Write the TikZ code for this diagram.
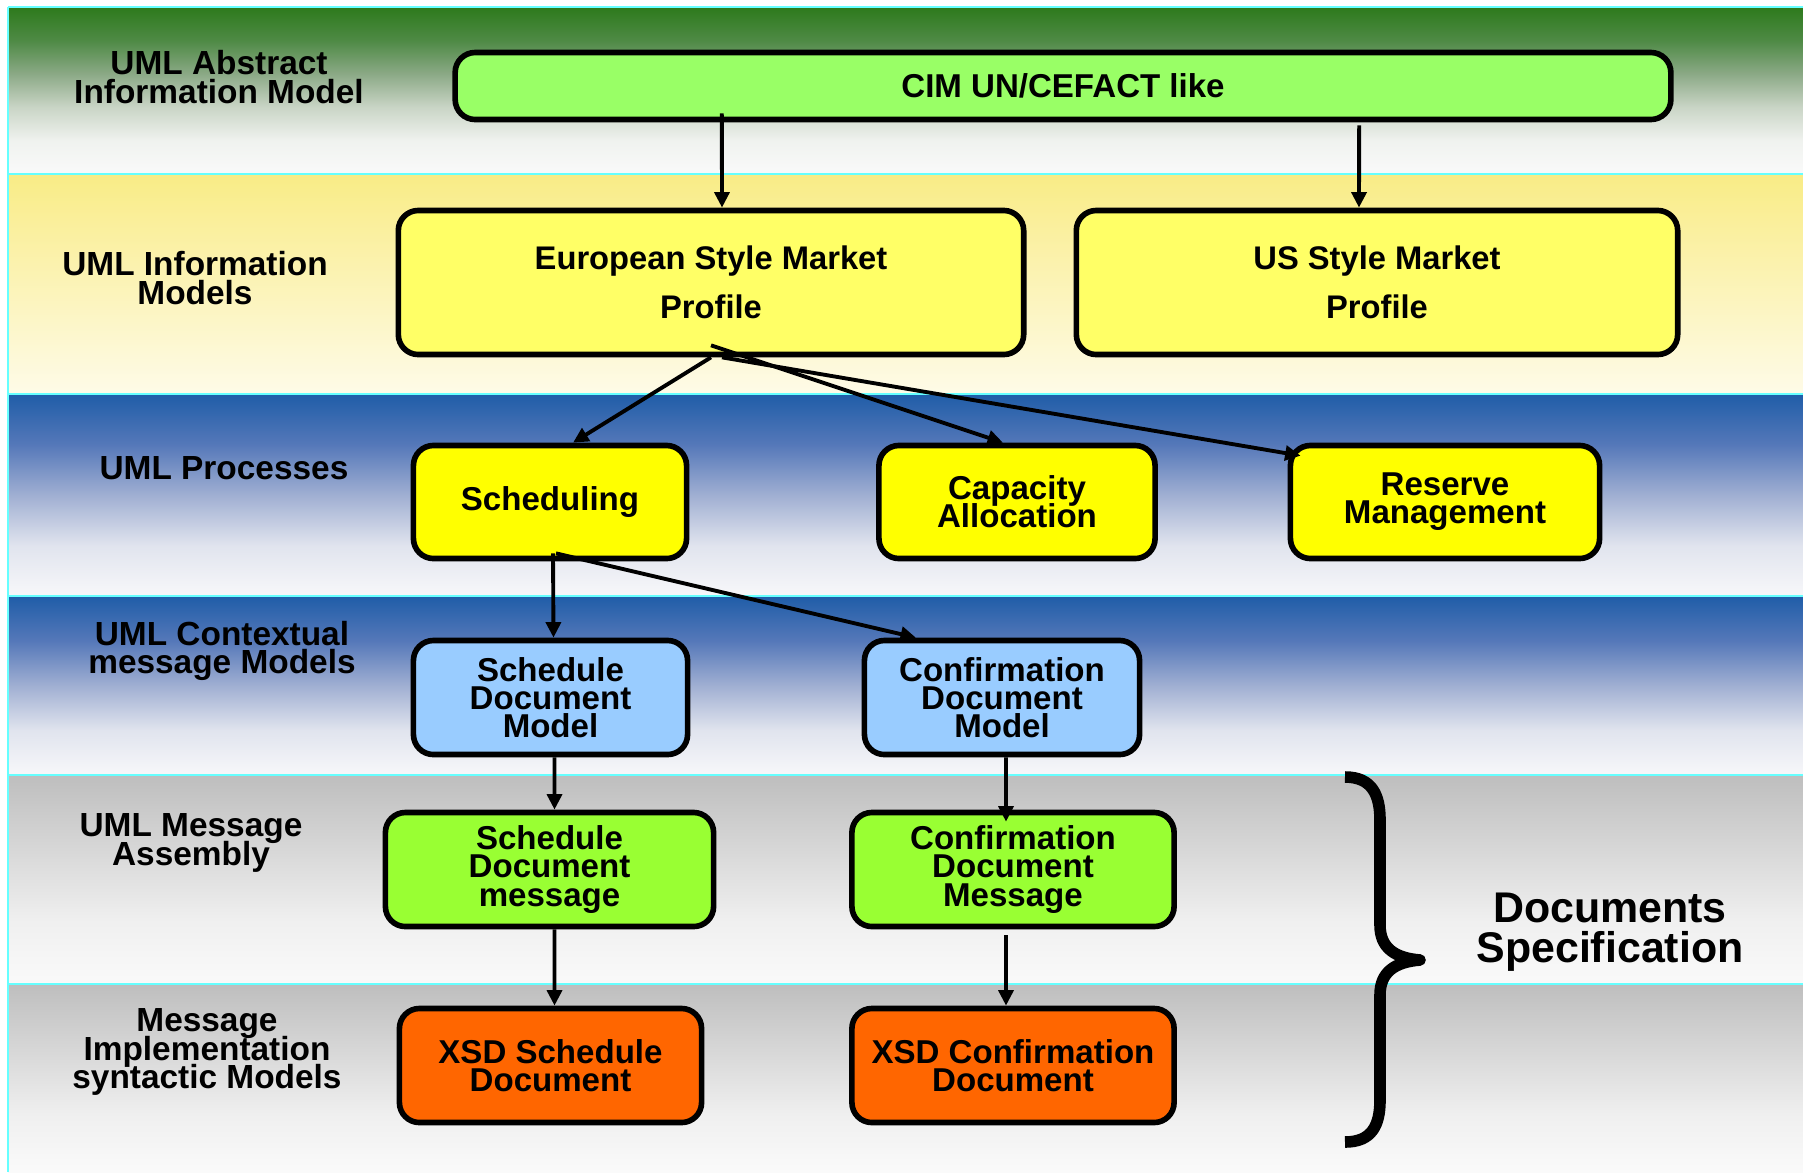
\documentclass[tikz,border=0pt]{standalone}
\usepackage{fontspec}
\setmainfont{Liberation Sans}
\usetikzlibrary{arrows.meta}
\definecolor{cimgreen}{RGB}{153,255,102}
\definecolor{profyellow}{RGB}{255,255,102}
\definecolor{procyellow}{RGB}{255,255,0}
\definecolor{modelblue}{RGB}{153,204,255}
\definecolor{msggreen}{RGB}{153,255,51}
\definecolor{xsdorange}{RGB}{255,102,0}
\definecolor{bandcyan}{RGB}{102,255,255}
\pgfdeclareverticalshading{bandgreen}{100bp}{rgb(0bp)=(0.98,0.98,0.98); rgb(25bp)=(0.98,0.98,0.98); rgb(35bp)=(0.94,0.95,0.937); rgb(45bp)=(0.79,0.835,0.776); rgb(55bp)=(0.545,0.663,0.525); rgb(65bp)=(0.306,0.541,0.27); rgb(75bp)=(0.176,0.478,0.11); rgb(100bp)=(0.176,0.478,0.11)}
\pgfdeclareverticalshading{bandyellow}{100bp}{rgb(0bp)=(0.996,0.984,0.91); rgb(25bp)=(0.996,0.984,0.91); rgb(75bp)=(0.976,0.925,0.525); rgb(100bp)=(0.976,0.925,0.525)}
\pgfdeclareverticalshading{bandblue}{100bp}{rgb(0bp)=(0.97,0.97,0.98); rgb(25bp)=(0.97,0.97,0.98); rgb(37.5bp)=(0.88,0.894,0.933); rgb(50bp)=(0.627,0.686,0.824); rgb(62.5bp)=(0.333,0.47,0.725); rgb(75bp)=(0.122,0.365,0.659); rgb(100bp)=(0.122,0.365,0.659)}
\pgfdeclareverticalshading{bandgrey}{100bp}{rgb(0bp)=(0.98,0.98,0.98); rgb(25bp)=(0.98,0.98,0.98); rgb(40bp)=(0.94,0.94,0.94); rgb(75bp)=(0.745,0.745,0.745); rgb(100bp)=(0.745,0.745,0.745)}
\tikzset{
    every node/.style={font=\fontsize{9.4}{8}\selectfont\bfseries, align=center,
        execute at begin node={\lineskiplimit=-20pt}},
    umlbox/.style={draw=black, line width=1.6pt, rounded corners=0.2cm, inner sep=0pt},
    layer/.style={font=\fontsize{9.5}{8}\selectfont\bfseries},
    profile/.style={font=\fontsize{9.3}{14}\selectfont\bfseries},
    flow/.style={-{Triangle[length=4.4pt,width=4.2pt]}, line width=1.1pt},
    bandline/.style={draw=bandcyan, line width=0.8pt}
}
\begin{document}
\begin{tikzpicture}[x=0.01cm, y=-0.01cm]
        \useasboundingbox (0,0) rectangle (1803,1172);
        \fill[white] (0,0) rectangle (1803,1172);
        \shade[shading=bandgreen] (8,7) rectangle (1803,174);
        \shade[shading=bandyellow] (8,174) rectangle (1803,394);
        \shade[shading=bandblue] (8,394) rectangle (1803,596);
        \shade[shading=bandblue] (8,596) rectangle (1803,775);
        \shade[shading=bandgrey] (8,775) rectangle (1803,984);
        \shade[shading=bandgrey] (8,984) rectangle (1803,1172);
        \foreach \y in {7,174,394,596,775,984}
            \draw[bandline] (8,\y) -- (1803,\y);
        \draw[bandline] (8,7) -- (8,1172);

        \node[layer] (labAbstract) at (219,77) {UML Abstract\\Information Model};
        \node[layer] (labInfo) at (195,278) {UML Information\\Models};
        \node[layer] (labProc) at (224,468) {UML Processes};
        \node[layer] (labContext) at (222,651) {UML Contextual\\message Models};
        \node[layer] (labAssembly) at (191,843) {UML Message\\Assembly};
        \node[layer] (labSyntax) at (207,1052) {Message\\Implementation\\syntactic Models};

        \node[umlbox, fill=cimgreen, minimum width=12.15cm, minimum height=0.67cm] (cim) at (1063,86) {CIM UN/CEFACT like};
        \node[umlbox, profile, fill=profyellow, minimum width=6.25cm, minimum height=1.44cm] (euro) at (711,282.5) {European Style Market\\Profile};
        \node[umlbox, profile, fill=profyellow, minimum width=6.01cm, minimum height=1.44cm] (us) at (1377,282.5) {US Style Market\\Profile};
        \node[umlbox, fill=procyellow, minimum width=2.73cm, minimum height=1.13cm] (sched) at (550,502) {Scheduling};
        \node[umlbox, fill=procyellow, minimum width=2.76cm, minimum height=1.13cm] (capa) at (1017,502) {Capacity\\Allocation};
        \node[umlbox, fill=procyellow, minimum width=3.09cm, minimum height=1.13cm] (reserve) at (1445,502) {Reserve\\Management};
        \node[umlbox, fill=modelblue, minimum width=2.74cm, minimum height=1.14cm] (sdm) at (550.5,697.5) {Schedule\\Document\\Model};
        \node[umlbox, fill=modelblue, minimum width=2.75cm, minimum height=1.14cm] (cdm) at (1002,697.5) {Confirmation\\Document\\Model};
        \node[umlbox, fill=msggreen, minimum width=3.28cm, minimum height=1.14cm] (sdmsg) at (549.5,869.5) {Schedule\\Document\\message};
        \node[umlbox, fill=msggreen, minimum width=3.22cm, minimum height=1.14cm] (cdmsg) at (1013,869.5) {Confirmation\\Document\\Message};
        \node[umlbox, fill=xsdorange, minimum width=3.02cm, minimum height=1.14cm] (xsds) at (550.5,1065.5) {XSD Schedule\\Document};
        \node[umlbox, fill=xsdorange, minimum width=3.22cm, minimum height=1.14cm] (xsdc) at (1013,1065.5) {XSD Confirmation\\Document};

        \node[font=\fontsize{12.2}{11.2}\selectfont\bfseries] (docspec) at (1610,932) {Documents\\Specification};
        \draw[line width=3.3pt, line join=round] (1345,777) .. controls (1372,777) and (1380,795) .. (1380,820) -- (1380,925) .. controls (1380,948) and (1395,958) .. (1420,960) .. controls (1395,962) and (1380,972) .. (1380,995) -- (1380,1100) .. controls (1380,1125) and (1372,1142) .. (1345,1142);

        \draw[flow] ([xshift=-3.41cm,yshift=0.09cm]cim.south) -- ([xshift=0.11cm]euro.north);
        \draw[flow] ([xshift=2.96cm,yshift=-0.03cm]cim.south) -- ([xshift=-0.18cm]us.north);
        \draw[flow] (euro.south) -- ([xshift=0.23cm]sched.north);
        \draw[flow] ([yshift=0.12cm]euro.south) -- ([xshift=-0.14cm]capa.north);
        \draw[flow] ([xshift=0.11cm]euro.south) -- ([xshift=0.13cm,yshift=-0.13cm]reserve.north west);
        \draw[flow] ([xshift=0.03cm,yshift=0.08cm]sched.south) -- ([xshift=0.03cm]sdm.north);
        \draw[flow] ([xshift=0.06cm,yshift=0.08cm]sched.south) -- ([xshift=-0.86cm]cdm.north);
        \draw[flow] ([xshift=0.04cm]sdm.south) -- ([xshift=0.05cm]sdmsg.north);
        \draw[flow] ([xshift=0.04cm]cdm.south) -- ([xshift=-0.07cm,yshift=-0.12cm]cdmsg.north);
        \draw[flow] ([xshift=0.05cm]sdmsg.south) -- ([xshift=0.04cm]xsds.north);
        \draw[flow] ([xshift=-0.07cm,yshift=-0.06cm]cdmsg.south) -- ([xshift=-0.07cm]xsdc.north);
    \end{tikzpicture}
\end{document}
